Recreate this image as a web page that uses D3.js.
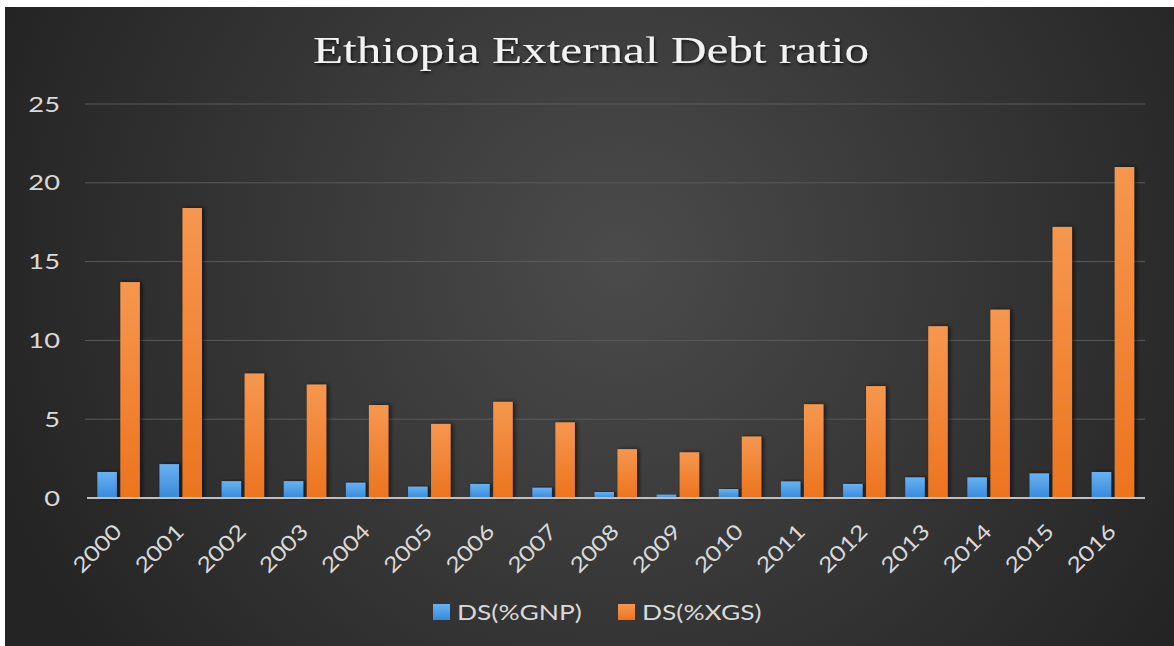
<!DOCTYPE html>
<html>
<head>
<meta charset="utf-8">
<script src="https://cdn.jsdelivr.net/npm/d3@7"></script>
<style>
  html, body { margin: 0; padding: 0; background: #ffffff; }
  svg { display: block; }
</style>
</head>
<body>
<script>
// chart values
var years = ["2000", "2001", "2002", "2003", "2004", "2005", "2006", "2007", "2008",
             "2009", "2010", "2011", "2012", "2013", "2014", "2015", "2016"];
var dsGnp = [1.65, 2.15, 1.07, 1.07, 0.97, 0.72, 0.89, 0.65, 0.38,
             0.21, 0.57, 1.05, 0.89, 1.31, 1.31, 1.56, 1.65];
var dsXgs = [13.7, 18.4, 7.9, 7.2, 5.9, 4.7, 6.1, 4.8, 3.1,
             2.9, 3.9, 5.95, 7.1, 10.9, 11.95, 17.2, 21.0];
var seriesNames = ["DS(%GNP)", "DS(%XGS)"];
var yTicks = [0, 5, 10, 15, 20, 25];

var W = 1174, H = 646;
var margin = {top: 104, right: 30, bottom: 148, left: 87.5};
var font = "Lato, 'Open Sans', sans-serif";

var rows = years.map(function (y, i) {
    return {year: y, values: [dsGnp[i], dsXgs[i]]};
});

var svg = d3.select("body")
    .append("svg")
    .attr("width", W)
    .attr("height", H);

var defs = svg.append("defs");

var bg = defs.append("radialGradient")
    .attr("id", "bg")
    .attr("gradientUnits", "userSpaceOnUse")
    .attr("cx", 620).attr("cy", 260).attr("r", 660);
bg.append("stop").attr("offset", "0%").attr("stop-color", "#4b4b4b");
bg.append("stop").attr("offset", "100%").attr("stop-color", "#242424");

var barColors = [["#68b2f3", "#3889da"], ["#f6974f", "#ec741e"]];
barColors.forEach(function (c, i) {
    var g = defs.append("linearGradient")
        .attr("id", "bar" + i)
        .attr("x1", 0).attr("y1", 0).attr("x2", 0).attr("y2", 1);
    g.append("stop").attr("offset", "0%").attr("stop-color", c[0]);
    g.append("stop").attr("offset", "100%").attr("stop-color", c[1]);
});

var shadow = defs.append("filter")
    .attr("id", "shadow")
    .attr("x", "-50%").attr("y", "-10%")
    .attr("width", "200%").attr("height", "120%");
shadow.append("feDropShadow")
    .attr("dx", 2).attr("dy", 0)
    .attr("stdDeviation", 2.2)
    .attr("flood-color", "#000")
    .attr("flood-opacity", 0.65);

var tshadow = defs.append("filter").attr("id", "tshadow");
tshadow.append("feDropShadow")
    .attr("dx", 1).attr("dy", 2)
    .attr("stdDeviation", 1.5)
    .attr("flood-color", "#000")
    .attr("flood-opacity", 0.7);

// background panel (white strip on top and left as in the screenshot)
svg.append("rect")
    .attr("x", 5).attr("y", 7)
    .attr("width", W - 5).attr("height", H - 7)
    .attr("fill", "url(#bg)");

// scales
var x0 = d3.scaleBand()
    .domain(years)
    .range([margin.left, W - margin.right])
    .paddingInner(0.316)
    .paddingOuter(0.158);

var x1 = d3.scaleBand()
    .domain([0, 1])
    .range([0, x0.bandwidth()])
    .paddingInner(0.152);

var y = d3.scaleLinear()
    .domain([0, 25])
    .range([H - margin.bottom, margin.top]);

// gridlines
svg.append("g")
    .selectAll("line")
    .data(yTicks.slice(1))
    .enter()
    .append("line")
    .attr("x1", 85)
    .attr("x2", W - 29)
    .attr("y1", function (d) { return y(d); })
    .attr("y2", function (d) { return y(d); })
    .attr("stroke", "#5b5b5b")
    .attr("stroke-width", 1);

// y labels
svg.append("g")
    .selectAll("text")
    .data(yTicks)
    .enter()
    .append("text")
    .attr("transform", function (d) {
        return "translate(60," + y(d) + ") scale(1.3,1)";
    })
    .attr("dy", "0.36em")
    .attr("text-anchor", "end")
    .style("font-family", font)
    .style("font-size", "21px")
    .style("fill", "#d9d9d9")
    .text(function (d) { return d; });

// bars
var groups = svg.append("g")
    .selectAll("g")
    .data(rows)
    .enter()
    .append("g")
    .attr("transform", function (d) {
        return "translate(" + x0(d.year) + ",0)";
    });

groups.selectAll("rect")
    .data(function (d) { return d.values; })
    .enter()
    .append("rect")
    .attr("x", function (d, i) { return x1(i); })
    .attr("y", function (d) { return y(d); })
    .attr("width", x1.bandwidth())
    .attr("height", function (d) { return y(0) - y(d); })
    .attr("fill", function (d, i) { return "url(#bar" + i + ")"; })
    .attr("filter", "url(#shadow)");

// x axis line
svg.append("line")
    .attr("x1", 87)
    .attr("x2", W - 29)
    .attr("y1", y(0))
    .attr("y2", y(0))
    .attr("stroke", "#bfbfbf")
    .attr("stroke-width", 2);

// x labels, rotated
svg.append("g")
    .selectAll("text")
    .data(years)
    .enter()
    .append("text")
    .attr("transform", function (d) {
        var cx = x0(d) + x0.bandwidth() / 2 + 4.5;
        return "translate(" + cx + "," + (y(0) + 35) + ") rotate(-45) scale(1.2,1)";
    })
    .attr("text-anchor", "end")
    .style("font-family", font)
    .style("font-size", "21px")
    .style("fill", "#d9d9d9")
    .text(function (d) { return d; });

// title
svg.append("text")
    .attr("x", 591)
    .attr("y", 63)
    .attr("text-anchor", "middle")
    .attr("textLength", 556)
    .attr("lengthAdjust", "spacingAndGlyphs")
    .attr("filter", "url(#tshadow)")
    .style("font-family", "'Liberation Serif', 'DejaVu Serif', serif")
    .style("font-size", "37px")
    .style("fill", "#f2f2f2")
    .text("Ethiopia External Debt ratio");

// legend
var legendX = [433, 618];
var legend = svg.append("g")
    .selectAll("g")
    .data(seriesNames)
    .enter()
    .append("g")
    .attr("transform", function (d, i) {
        return "translate(" + legendX[i] + ",604)";
    });

legend.append("rect")
    .attr("width", 17)
    .attr("height", 16)
    .attr("fill", function (d, i) { return "url(#bar" + i + ")"; });

legend.append("text")
    .attr("transform", "translate(24,8) scale(1.2,1)")
    .attr("dy", "0.36em")
    .style("font-family", font)
    .style("font-size", "22px")
    .style("fill", "#d9d9d9")
    .text(function (d) { return d; });
</script>
</body>
</html>
